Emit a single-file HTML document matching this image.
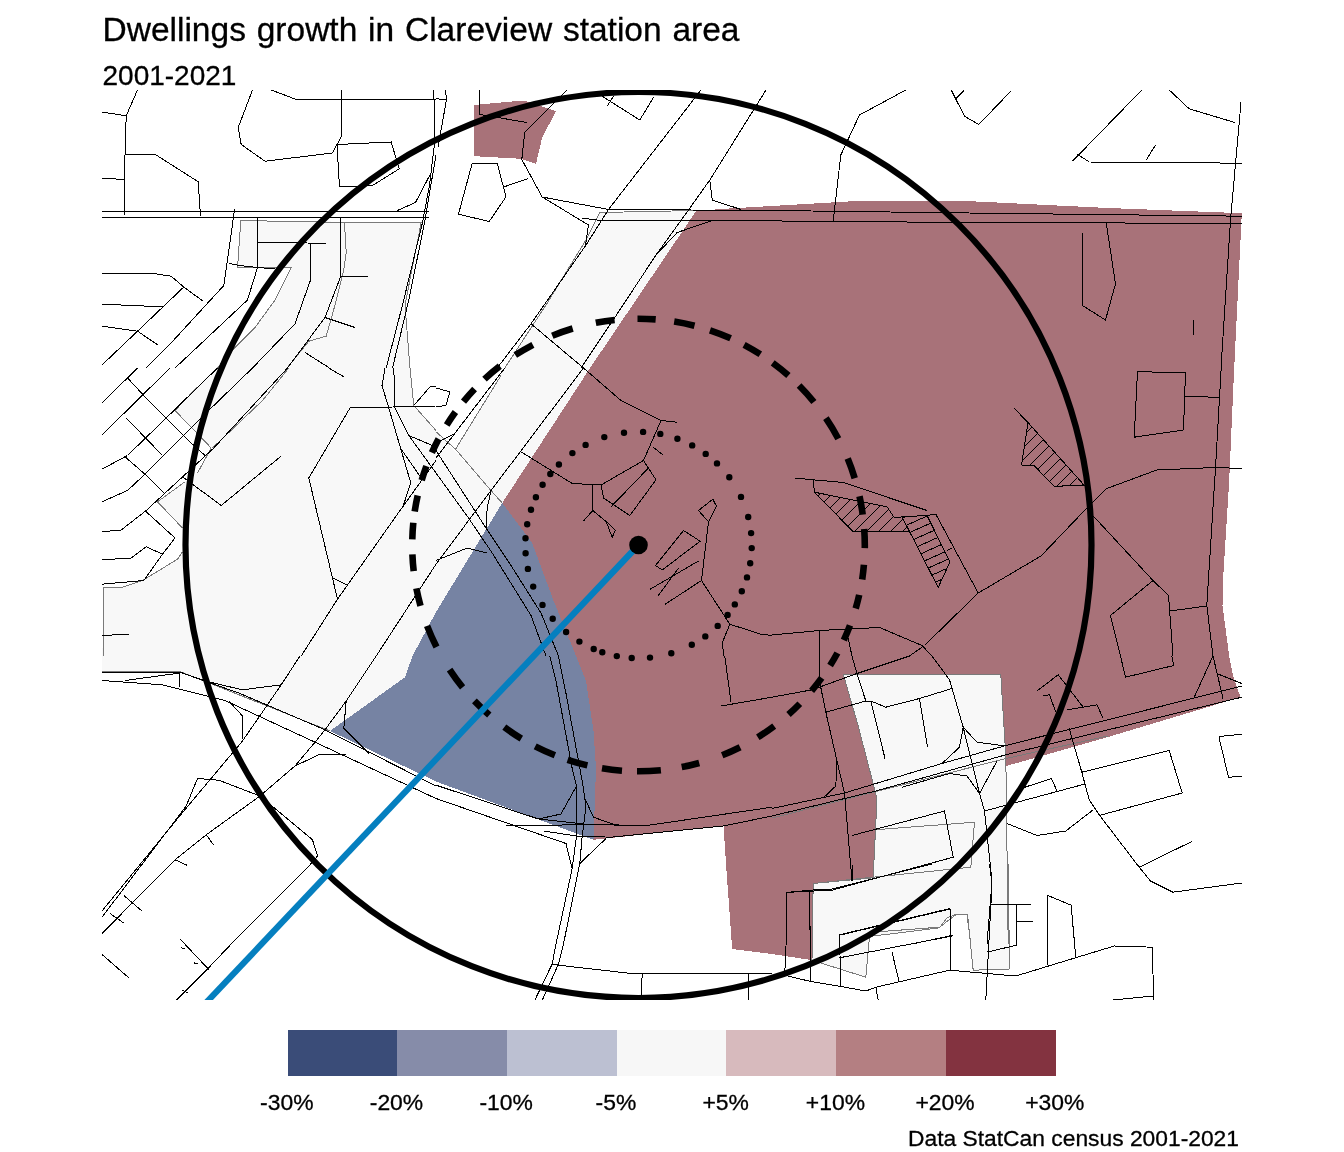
<!DOCTYPE html>
<html lang="en"><head><meta charset="utf-8"><title>Dwellings growth in Clareview station area</title>
<style>html,body{margin:0;padding:0;background:#fff}body{width:1344px;height:1152px;overflow:hidden}svg{display:block}text{font-family:"Liberation Sans",sans-serif;fill:#000;stroke:#000;stroke-width:0.3px}</style></head><body>
<svg width="1344" height="1152" viewBox="0 0 1344 1152">
<rect width="1344" height="1152" fill="#fff"/>
<defs><clipPath id="mapclip"><rect x="102" y="90" width="1140" height="910"/></clipPath>
<clipPath id="hc0"><path d="M814.5 492.2 L853.2 531.8 L909.5 531.8 L902.0 516.8 L894.5 518.0 L887.0 506.8 Z"/></clipPath>
<clipPath id="hc1"><path d="M902.0 516.8 L927.0 515.5 L950.0 561.8 L938.2 587.5 Z"/></clipPath>
<clipPath id="hc2"><path d="M1029.5 424.2 L1084.5 485.5 L1054.0 486.2 L1034.0 465.5 L1021.5 465.0 L1028.2 421.8 Z"/></clipPath>
</defs>
<g clip-path="url(#mapclip)">
<g shape-rendering="crispEdges" stroke="none">
<path d="M240.8 220.5 L421.2 222.5 L405.0 305.0 L410.0 368.0 L413.8 405.5 L436.0 431.0 L491.0 490.5 L502.2 503.0 L436.0 612.0 L412.5 656.0 L405.0 677.2 L330.0 731.0 L240.0 696.0 L180.0 672.2 L102.0 672.2 L103.8 587.5 L120.0 588.0 L142.5 580.5 L177.5 559.2 L182.5 551.8 L182.5 528.0 L157.5 501.8 L185.0 481.8 L197.5 473.0 L211.2 448.0 L175.0 410.5 L197.5 386.8 L227.5 355.0 L255.0 327.5 L275.0 300.0 L291.2 267.5 L237.5 268.0 Z" fill="#F8F8F8"/>
<path d="M599.8 212.5 L696.0 210.5 L590.0 368.0 L502.2 503.0 L455.0 449.0 L504.8 368.0 L586.0 238.0 Z" fill="#F8F8F8"/>
<path d="M696.0 211.2 L723.5 208.8 L772.0 206.0 L859.5 200.8 L962.0 200.8 L1108.0 208.0 L1241.8 213.2 L1234.2 368.0 L1229.2 480.5 L1223.0 580.5 L1222.5 605.5 L1229.2 656.0 L1233.0 676.0 L1240.5 697.2 L1108.0 737.0 L1008.0 765.5 L877.0 798.0 L873.2 877.2 L813.2 883.5 L812.0 960.2 L772.0 954.0 L732.2 949.0 L726.0 864.0 L723.5 826.0 L593.5 839.8 L596.0 768.5 L593.5 731.0 L586.0 681.0 L576.0 656.0 L553.5 600.5 L532.2 543.0 L502.2 503.0 L590.0 368.0 Z" fill="#A87279"/>
<path d="M473.5 105.0 L523.5 100.5 L556.0 111.2 L542.2 137.5 L536.0 163.8 L521.0 158.8 L474.2 156.2 Z" fill="#A87279"/>
<path d="M502.2 503.0 L532.2 543.0 L553.5 600.5 L576.0 656.0 L586.0 681.0 L593.5 731.0 L596.0 768.5 L593.5 839.8 L436.0 781.5 L330.0 731.0 L405.0 677.2 L412.5 656.0 L436.0 612.0 Z" fill="#7683A3"/>
<path d="M843.2 674.0 L1000.8 674.8 L1005.8 756.0 L1008.2 944.0 L1009.5 969.0 L973.2 970.2 L967.5 914.0 L957.0 914.0 L947.0 917.8 L939.5 927.8 L869.5 936.5 L865.8 977.2 L812.0 960.2 L813.2 883.5 L873.2 877.2 L877.0 798.5 L858.2 726.0 Z" fill="#F8F8F8"/>
</g>
<g fill="none" stroke="#7a7a7a" stroke-width="1" shape-rendering="crispEdges">
<path d="M240.8 220.5 L237.5 268.0 L291.2 267.5 L275.0 300.0 L255.0 327.5 L227.5 355.0 L217.5 368.0 M240.8 220.5 L344.5 222.5 L421.2 222.5 L405.0 305.0 L410.0 368.0 M344.5 222.5 L346.2 252.5 L343.8 270.0 L335.0 305.0 L326.2 336.2 L308.8 341.2 L287.5 367.5 M696.0 210.5 L599.8 212.5 L586.0 240.0 L546.0 305.0 L504.8 368.0 M197.5 386.8 L175.0 410.5 L211.2 448.0 L197.5 473.0 M288.8 368.0 L262.5 400.5 L212.5 448.0 M185.0 481.8 L157.5 501.8 L182.5 528.0 M182.5 551.8 L177.5 559.2 L142.5 580.5 L120.0 588.0 L103.8 587.5 L103.8 656.0 M410.0 368.0 L413.8 405.5 L436.0 430.5 M501.0 375.5 L455.5 449.2 L491.0 490.5 L502.2 503.0 M436.0 431.8 L455.5 449.2 M102.0 671.5 L180.0 671.5 L240.0 695.2 L330.0 731.0 M772.0 818.0 L1005.8 758.5 L1108.0 736.0 M874.5 829.8 L974.5 822.2 L970.8 867.2 L873.2 877.2 M872.0 932.2 L939.5 927.2 L955.8 914.8 L967.0 914.8 L970.8 944.0 M843.2 674.0 L1000.8 674.8 L1005.8 756.0 L1008.2 944.0 M843.2 674.0 L858.2 726.0 L877.0 798.5 L873.2 877.2 L813.2 883.5 L812.0 944.0 M813.2 883.5 L873.2 877.8 L873.2 864.0 M812.0 960.2 L865.8 977.2 L869.5 936.5 L939.5 927.8 L947.0 917.8 L957.0 914.0 L967.5 914.0 L973.2 970.2 L1009.5 969.0 L1008.2 864.0 M813.2 883.5 L812.0 960.2"/>
</g>
<g fill="none" stroke="#000" stroke-width="1" shape-rendering="crispEdges">
<path d="M137.5 90.0 L126.2 115.8 L125.0 155.0 L124.2 215.0 M102.0 112.0 L126.2 115.8 M125.0 154.2 L156.2 155.0 L198.2 181.8 L200.5 215.8 M102.0 178.2 L123.8 179.5 M252.5 90.0 L238.2 127.5 L241.2 144.5 L265.0 161.2 L332.5 153.0 L337.0 144.5 L341.5 136.2 L341.5 90.0 M271.2 90.0 L295.0 99.0 L436.0 99.0 M337.0 144.5 L391.2 142.0 L399.2 168.8 L372.5 185.5 L339.5 187.0 L337.0 144.5 M433.8 90.0 L435.0 140.0 L429.5 185.0 L422.5 222.5 L402.5 305.0 L386.2 368.0 M436.0 155.0 L425.0 220.0 L408.8 300.0 L392.5 368.0 M102.0 211.2 L428.8 211.2 M102.0 217.0 L428.8 217.0 M397.5 210.5 L415.5 202.5 L431.2 172.5 M234.5 209.5 L230.0 242.5 L223.8 285.5 L173.8 340.0 L146.2 368.0 M228.8 263.2 L238.8 265.5 L257.5 267.5 L275.0 268.8 M257.5 217.0 L257.5 267.5 L247.5 300.0 L175.0 368.0 M257.5 242.5 L326.2 243.2 M310.8 243.2 L310.8 279.2 L295.0 323.8 L252.5 368.0 M340.8 217.0 L340.8 276.2 L367.5 276.2 M340.8 276.2 L325.0 317.5 L355.0 327.5 M325.0 317.5 L287.5 368.0 M305.0 352.5 L328.8 367.5 M102.0 273.2 L151.2 273.2 L171.2 276.2 L183.8 287.0 L202.5 300.8 M183.8 287.0 L137.5 331.2 L102.0 365.0 M102.0 304.2 L162.5 306.8 M102.0 326.2 L137.5 331.2 L158.0 345.0 M445.5 90.0 L446.5 99.5 L438.0 147.5 M436.0 98.8 L446.5 99.5 M479.8 90.0 L479.8 114.5 L527.2 122.5 M567.2 90.0 L524.8 132.0 L521.8 159.5 L542.2 197.0 L608.5 209.5 L772.0 210.5 M542.2 197.0 L588.5 225.0 L585.5 245.0 M472.2 163.2 L497.2 163.2 L506.0 196.8 L489.2 221.5 L458.5 214.2 L472.2 163.2 M503.5 187.0 L527.8 178.8 M601.0 95.5 L639.8 120.0 L653.5 97.5 M607.2 106.2 L613.5 96.2 M701.0 90.0 L608.5 209.5 L586.0 245.0 L531.0 323.8 L497.2 368.0 M766.0 90.0 L709.8 180.0 L688.5 210.0 L656.0 255.0 L614.8 317.5 L581.0 368.0 M709.8 180.0 L712.2 200.0 L741.0 209.5 M582.2 218.2 L601.0 220.5 L772.0 220.5 M712.2 220.5 L677.2 232.5 L656.0 255.0 M531.0 323.8 L578.5 363.8 L583.5 368.0 M905.8 90.0 L859.5 115.0 L840.8 155.0 L833.2 221.2 M772.0 210.5 L1008.0 213.5 M772.0 220.5 L797.0 221.8 L1008.0 222.2 M951.2 90.0 L964.5 116.2 L978.8 124.5 L1010.8 91.2 M955.8 98.8 L964.0 90.5 M1141.8 90.0 L1072.5 161.2 M1076.8 153.8 L1089.2 162.0 L1160.5 162.5 L1241.8 163.2 M1146.2 160.0 L1155.5 145.0 M1169.2 90.0 L1189.2 108.8 L1234.8 122.5 M1241.0 102.5 L1230.5 220.0 L1221.0 368.0 M1008.0 213.5 L1241.8 216.2 M1008.0 222.2 L1241.8 223.8 M1082.5 233.0 L1082.5 305.5 L1105.5 320.0 L1115.5 283.8 L1106.2 223.0 M1193.5 320.0 L1193.5 335.0 M137.5 368.0 L102.0 403.0 M170.0 368.0 L102.0 435.0 M127.5 378.0 L143.8 395.5 L166.2 418.0 L192.5 444.2 L205.0 455.5 M217.5 368.0 L166.2 418.0 L127.5 455.5 L125.0 456.8 L102.0 469.2 M126.2 418.0 L162.5 455.5 M252.5 368.0 L210.0 409.2 L145.0 474.2 L127.5 490.5 L102.0 501.8 M125.0 456.8 L145.0 474.2 L163.8 493.0 M287.5 368.0 L213.8 448.0 L146.2 510.5 L121.2 530.0 L102.0 531.8 M146.2 511.8 L175.0 538.0 L162.5 554.2 L143.8 580.5 L102.0 584.2 M102.0 559.8 L131.2 558.0 L146.2 546.8 L162.5 554.2 M102.0 635.5 L128.8 634.2 M182.5 476.8 L221.2 505.5 L281.2 456.0 M436.0 406.0 L350.0 408.0 L308.8 478.0 L337.5 599.2 M332.5 578.0 L347.5 585.0 M328.8 368.0 L343.8 376.8 M385.0 368.0 L382.0 385.5 L388.8 408.0 L410.8 483.0 L402.5 508.0 M393.8 368.0 L395.0 408.0 L408.8 435.5 L436.0 473.0 M413.8 405.5 L430.0 386.8 L436.0 386.8 M408.8 435.5 L432.5 445.5 M401.2 449.2 L421.2 478.0 M436.0 460.5 L400.0 510.5 L337.5 599.2 L301.2 656.0 M436.0 564.2 L376.2 656.0 M583.5 368.0 L621.0 400.5 L661.0 420.5 L677.2 422.2 M661.0 420.5 L643.5 460.5 L601.0 485.0 L572.2 483.5 L521.0 451.8 M643.5 460.5 L656.0 479.8 L629.8 515.5 L603.5 498.0 L601.0 485.0 M648.5 468.0 L611.0 506.8 M592.2 484.2 L592.8 510.5 L583.5 521.0 M592.8 510.5 L607.2 522.5 L615.2 530.5 L612.2 537.5 L606.0 521.0 M653.5 447.5 L662.8 454.8 M698.5 510.5 L712.8 499.2 L716.5 506.2 L708.5 521.8 L698.5 510.5 M708.5 521.8 L701.5 580.5 L729.8 624.2 L761.0 634.2 L772.0 635.5 M729.8 624.2 L722.2 643.0 L724.0 656.0 M683.5 530.5 L700.2 541.2 L662.2 570.0 L655.5 565.5 L683.5 530.5 M698.5 561.0 L650.2 589.2 M678.5 568.0 L658.0 596.0 M701.5 580.5 L665.2 604.2 M583.5 368.0 L491.0 490.5 L436.0 564.2 M504.8 368.0 L436.0 458.0 M436.0 473.0 L468.5 518.0 L492.2 553.0 L531.0 615.5 L546.0 656.0 M436.0 450.5 L486.0 528.0 L511.0 565.5 L541.0 613.0 L558.5 656.0 M491.0 490.5 L487.2 508.0 L486.0 528.0 M436.0 560.5 L467.2 548.0 L487.2 553.0 M436.0 388.0 L449.8 391.8 L446.0 405.5 L436.0 406.8 M453.5 434.2 L436.0 443.0 M795.2 478.0 L813.2 479.8 L843.2 482.5 L927.0 510.5 M813.2 479.8 L814.5 492.2 L853.2 531.8 L909.5 531.8 L902.0 516.8 L894.5 518.0 L887.0 506.8 L814.5 492.2 M902.0 516.8 L927.0 515.5 L935.8 514.2 L978.2 593.0 M927.0 515.5 L950.0 561.8 L938.2 587.5 L902.0 516.8 M947.0 550.5 L952.0 548.0 M1014.0 408.0 L1029.5 424.2 L1084.5 485.5 L1054.0 486.2 L1034.0 465.5 L1021.5 465.0 L1028.2 421.8 M978.2 593.0 L1041.0 556.0 M978.2 593.0 L924.5 645.5 L909.5 656.0 M772.0 635.0 L819.5 630.5 L879.5 627.5 L922.0 645.5 L932.0 656.0 M819.5 630.5 L819.5 656.0 M847.0 633.0 L852.0 656.0 M1221.2 368.0 L1215.5 468.0 L1206.8 605.5 L1213.0 656.0 M1137.5 371.8 L1185.5 372.5 L1183.5 430.0 L1134.2 437.2 L1137.5 371.8 M1185.0 396.0 L1219.2 397.5 M1241.8 468.5 L1215.5 467.5 L1156.8 470.0 L1106.8 488.5 L1090.5 504.2 L1041.0 556.0 M1090.5 513.0 L1153.0 580.5 L1168.5 595.5 L1173.0 656.0 M1153.0 580.5 L1110.5 615.5 L1120.5 656.0 M1170.0 611.0 L1206.8 606.0 M102.0 672.2 L180.0 672.2 L210.0 682.2 L242.5 689.8 L281.2 684.8 M180.0 672.2 L240.0 693.5 L325.0 729.8 L436.0 786.0 M102.0 680.5 L162.5 684.8 L225.0 700.5 L315.0 742.2 L436.0 798.5 M125.0 680.5 L180.0 673.0 L179.5 687.2 M228.8 701.0 L242.5 716.0 L242.5 738.5 M300.0 656.0 L281.2 684.8 L242.5 741.0 L183.8 811.0 L102.0 911.0 M376.2 656.0 L346.2 701.0 L325.0 729.8 L315.0 742.2 L295.0 766.0 L260.0 796.0 L206.2 834.8 L175.0 859.8 L102.0 933.5 M295.0 766.0 L320.0 754.2 L346.2 754.2 M346.2 701.0 L343.8 728.5 L368.8 753.5 M197.5 778.5 L218.8 780.2 L260.0 796.0 L275.0 808.5 L312.5 839.8 L317.5 856.0 L310.0 864.8 L231.2 944.0 M197.5 778.5 L186.2 806.0 L102.0 917.2 M206.2 834.8 L213.8 845.2 M175.0 859.8 L187.5 865.5 M123.8 895.5 L142.5 911.5 M110.0 913.5 L124.5 923.5 M549.8 656.0 L556.0 681.0 L572.2 768.5 L576.5 786.0 L576.5 836.0 L572.2 868.5 L556.0 944.0 M558.5 656.0 L566.0 693.5 L582.2 781.0 L586.0 806.0 L582.2 836.0 L579.8 863.5 L563.5 944.0 M576.5 786.0 L561.0 814.0 L538.5 819.0 L583.5 824.0 L643.5 826.0 L772.0 807.2 M586.0 801.0 L593.5 817.2 L614.8 824.8 L642.2 826.0 M436.0 798.5 L566.0 843.5 L572.2 868.5 M436.0 785.2 L538.5 819.0 M506.0 825.5 L586.0 824.8 M543.5 831.0 L576.0 836.0 L611.0 837.2 L723.5 826.0 L772.0 816.0 M579.8 863.5 L606.0 838.5 M724.8 656.0 L731.0 702.2 M721.0 706.0 L772.0 697.2 M772.0 808.5 L844.5 793.0 L942.0 763.5 L1007.0 745.2 M772.0 816.0 L875.8 791.0 L1005.8 754.8 M819.5 656.0 L819.5 681.0 L825.8 712.2 L837.0 761.0 L844.5 793.0 L852.0 881.0 M837.0 761.0 L835.8 786.0 L823.2 798.0 M852.0 656.0 L857.0 673.5 L865.8 701.0 L870.8 701.0 L885.8 707.2 L919.5 698.5 L952.0 688.5 M870.8 701.0 L885.0 758.5 M919.5 698.5 L927.5 747.2 M825.8 712.2 L865.8 701.0 M932.0 656.0 L949.5 679.8 L963.2 727.2 L979.5 793.5 L984.5 811.0 L992.0 881.0 L987.0 944.0 M963.2 727.2 L959.5 747.2 L942.0 763.5 M963.2 727.2 L977.0 742.2 L1005.8 746.0 M902.0 787.2 L949.5 773.5 L967.0 776.0 L979.5 793.5 L997.0 761.0 M772.0 697.2 L812.0 689.8 L857.0 673.5 L909.5 656.0 M852.0 835.5 L944.5 811.0 L953.2 857.2 L832.0 890.2 L787.0 892.2 L786.0 944.0 M809.5 891.0 L810.2 944.0 M984.5 811.0 L1082.0 784.8 L1084.5 784.0 M1017.0 789.8 L1051.5 778.5 L1057.0 791.0 M1007.0 823.5 L1037.0 835.5 L1065.8 831.0 L1093.2 809.8 M1037.0 691.0 L1058.2 674.8 L1083.2 707.2 M1043.2 696.0 L1049.5 694.8 L1055.8 712.2 M1067.0 709.8 L1097.0 704.8 L1103.2 718.5 M990.8 904.8 L1030.8 904.8 M1016.5 904.8 L1016.5 944.0 M1016.5 921.0 L1033.2 921.0 M1047.8 895.5 L1071.2 905.2 L1074.5 944.0 M1047.8 895.5 L1047.8 944.0 M839.5 944.0 L839.5 934.8 L950.0 908.5 L950.8 944.0 M912.0 944.0 L953.2 935.2 M1007.0 745.2 L1241.8 686.0 M1005.8 754.8 L1241.8 697.2 M1120.5 656.0 L1125.5 677.2 L1173.8 665.5 L1171.8 656.0 M1213.0 656.0 L1194.2 697.2 M1213.0 656.0 L1223.0 698.5 M1216.8 673.5 L1241.8 683.5 M1069.2 728.5 L1081.8 772.2 L1089.2 799.8 L1099.2 814.8 L1139.2 867.2 L1150.5 881.0 L1173.0 892.2 L1241.8 883.0 M1081.8 772.2 L1169.2 750.5 L1182.2 793.0 L1099.2 815.5 M1139.2 867.2 L1191.8 841.5 M1218.8 736.5 L1241.8 734.2 M1218.8 736.5 L1228.5 777.2 L1241.8 776.5 M102.0 954.5 L128.8 977.8 M231.2 944.0 L207.5 969.0 L176.2 1000.2 M180.0 939.0 L208.8 969.5 M181.2 947.8 L185.0 949.0 M193.8 962.8 L197.5 964.0 M182.5 990.2 L187.5 992.8 M552.2 964.0 L558.5 965.2 L636.0 974.0 L751.0 973.2 L772.0 974.0 M642.2 974.0 L641.0 1000.2 M556.0 944.0 L552.2 964.0 L534.8 1000.2 M563.5 944.0 L558.5 964.0 L542.2 1000.2 M748.5 973.2 L748.5 1000.2 M787.0 892.8 L809.5 890.2 L832.0 889.0 L932.0 864.0 M787.0 892.8 L785.8 956.5 L784.5 975.2 L810.8 981.5 L840.8 986.5 L865.8 991.0 L875.8 987.2 L949.5 970.2 L1015.8 976.0 M809.5 890.2 L810.8 981.5 M839.5 935.2 L950.0 909.0 L950.8 970.2 M839.5 935.2 L840.8 986.5 M839.5 957.8 L953.2 935.8 M892.0 952.0 L899.0 981.5 M875.8 987.2 L878.2 1000.2 M989.5 864.0 L992.0 884.0 L985.8 1000.2 M1016.5 904.5 L1016.5 945.2 L987.5 952.0 M1071.2 905.2 L1075.8 957.8 M1047.8 895.2 L1047.8 965.2 M852.0 864.0 L852.5 881.5 M1015.8 976.0 L1114.2 946.0 L1152.5 947.2 L1153.5 1000.2 M1111.0 1000.2 L1153.5 996.0"/>
<path clip-path="url(#hc0)" d="M722.7 507.1 L857.1 372.7 M728.7 513.1 L863.1 378.7 M734.7 519.1 L869.1 384.7 M740.7 525.1 L875.1 390.7 M746.7 531.1 L881.1 396.7 M752.8 537.1 L887.1 402.8 M758.8 543.1 L893.1 408.8 M764.8 549.1 L899.1 414.8 M770.8 555.1 L905.1 420.8 M776.8 561.1 L911.1 426.8 M782.8 567.2 L917.2 432.8 M788.8 573.2 L923.2 438.8 M794.8 579.2 L929.2 444.8 M800.8 585.2 L935.2 450.8 M806.8 591.2 L941.2 456.8 M812.9 597.2 L947.2 462.9 M818.9 603.2 L953.2 468.9 M824.9 609.2 L959.2 474.9 M830.9 615.2 L965.2 480.9 M836.9 621.2 L971.2 486.9 M842.9 627.3 L977.3 492.9 M848.9 633.3 L983.3 498.9 M854.9 639.3 L989.3 504.9 M860.9 645.3 L995.3 510.9"/>
<path clip-path="url(#hc1)" d="M827.7 507.7 L959.2 449.1 M830.9 515.0 L962.5 456.4 M834.2 522.3 L965.7 463.7 M837.4 529.6 L969.0 471.1 M840.7 536.9 L972.3 478.4 M844.0 544.2 L975.5 485.7 M847.2 551.6 L978.8 493.0 M850.5 558.9 L982.0 500.3 M853.7 566.2 L985.3 507.6 M857.0 573.5 L988.5 514.9 M860.2 580.8 L991.8 522.2 M863.5 588.1 L995.0 529.5 M866.7 595.4 L998.3 536.8 M870.0 602.7 L1001.5 544.1 M873.2 610.0 L1004.8 551.4 M876.5 617.3 L1008.0 558.8 M879.7 624.6 L1011.3 566.1 M883.0 631.9 L1014.6 573.4 M886.3 639.3 L1017.8 580.7"/>
<path clip-path="url(#hc2)" d="M959.3 451.5 L1050.5 360.3 M965.3 457.5 L1056.5 366.3 M971.3 463.5 L1062.5 372.3 M977.3 469.6 L1068.6 378.3 M983.3 475.6 L1074.6 384.3 M989.4 481.6 L1080.6 390.4 M995.4 487.6 L1086.6 396.4 M1001.4 493.6 L1092.6 402.4 M1007.4 499.6 L1098.6 408.4 M1013.4 505.6 L1104.6 414.4 M1019.4 511.6 L1110.6 420.4 M1025.4 517.6 L1116.6 426.4 M1031.4 523.7 L1122.7 432.4 M1037.4 529.7 L1128.7 438.4 M1043.5 535.7 L1134.7 444.5 M1049.5 541.7 L1140.7 450.5"/>
</g>
<g fill="none" stroke="#000">
<circle cx="638.5" cy="545.0" r="453.0" stroke-width="6.2"/>
<path stroke-width="6.6" d="M595.8 322.8 A226.3 226.3 0 0 1 614.6 320.0 M552.3 335.7 A226.3 226.3 0 0 1 572.7 328.5 M515.3 355.1 A226.3 226.3 0 0 1 532.9 344.8 M484.5 379.2 A226.3 226.3 0 0 1 499.8 366.2 M463.5 401.6 A226.3 226.3 0 0 1 474.6 389.0 M446.7 425.0 A226.3 226.3 0 0 1 455.4 412.0 M431.9 452.7 A226.3 226.3 0 0 1 438.6 438.9 M421.7 480.3 A226.3 226.3 0 0 1 426.4 466.2 M414.7 511.5 A226.3 226.3 0 0 1 417.7 495.6 M412.3 539.4 A226.3 226.3 0 0 1 413.3 522.7 M637.5 318.7 A226.3 226.3 0 0 1 655.7 319.4 M674.2 321.5 A226.3 226.3 0 0 1 694.5 325.7 M710.0 330.3 A226.3 226.3 0 0 1 730.6 338.3 M744.1 344.8 A226.3 226.3 0 0 1 760.3 354.3 M772.7 362.8 A226.3 226.3 0 0 1 788.4 375.5 M799.1 385.5 A226.3 226.3 0 0 1 813.9 402.0 M825.9 418.2 A226.3 226.3 0 0 1 838.3 438.7 M847.7 458.6 A226.3 226.3 0 0 1 854.7 478.2 M859.5 496.3 A226.3 226.3 0 0 1 862.7 514.6 M864.2 529.0 A226.3 226.3 0 0 1 864.8 548.1 M863.9 564.7 A226.3 226.3 0 0 1 862.2 579.4 M859.2 594.9 A226.3 226.3 0 0 1 855.7 608.5 M850.0 625.4 A226.3 226.3 0 0 1 843.8 640.2 M837.4 653.0 A226.3 226.3 0 0 1 830.1 665.5 M821.7 677.9 A226.3 226.3 0 0 1 811.6 690.8 M799.8 703.7 A226.3 226.3 0 0 1 788.5 714.5 M774.2 726.1 A226.3 226.3 0 0 1 757.8 737.3 M740.1 747.2 A226.3 226.3 0 0 1 722.2 755.2 M699.2 763.0 A226.3 226.3 0 0 1 681.7 767.1 M660.9 770.2 A226.3 226.3 0 0 1 637.0 771.3 M622.0 770.7 A226.3 226.3 0 0 1 602.0 768.3 M587.4 765.4 A226.3 226.3 0 0 1 567.6 759.9 M554.9 755.3 A226.3 226.3 0 0 1 535.2 746.4 M521.3 738.6 A226.3 226.3 0 0 1 504.3 727.2 M489.3 715.1 A226.3 226.3 0 0 1 474.4 700.9 M462.6 687.4 A226.3 226.3 0 0 1 449.6 669.6 M436.5 647.0 A226.3 226.3 0 0 1 427.1 625.9 M420.5 605.8 A226.3 226.3 0 0 1 416.4 588.4 M413.7 571.2 A226.3 226.3 0 0 1 412.4 554.3"/>
<path stroke-width="6.4" stroke-linecap="round" d="M624.0 432.7 h0.01 M604.3 437.1 h0.01 M585.6 444.9 h0.01 M572.4 453.1 h0.01 M558.9 464.5 h0.01 M550.3 474.0 h0.01 M542.6 484.8 h0.01 M535.9 497.2 h0.01 M531.0 509.7 h0.01 M527.2 524.3 h0.01 M525.5 538.3 h0.01 M643.1 431.9 h0.01 M660.3 433.9 h0.01 M677.4 438.7 h0.01 M692.2 445.4 h0.01 M705.7 453.9 h0.01 M717.0 463.4 h0.01 M729.3 477.3 h0.01 M741.0 496.9 h0.01 M748.2 517.0 h0.01 M751.1 533.1 h0.01 M751.7 548.1 h0.01 M750.2 563.3 h0.01 M747.0 577.4 h0.01 M741.8 591.3 h0.01 M734.8 604.4 h0.01 M727.6 614.9 h0.01 M717.7 625.9 h0.01 M705.3 636.4 h0.01 M691.8 644.8 h0.01 M671.3 653.3 h0.01 M650.0 657.6 h0.01 M525.6 553.3 h0.01 M527.9 568.9 h0.01 M533.2 586.6 h0.01 M542.5 604.9 h0.01 M552.7 618.8 h0.01 M566.1 632.0 h0.01 M579.4 641.6 h0.01 M593.7 649.0 h0.01 M602.3 652.3 h0.01 M616.8 656.1 h0.01 M631.7 658.0 h0.01"/>
</g>
<line x1="638.5" y1="545.0" x2="203.0" y2="1006.0" stroke="#057FBF" stroke-width="6.2"/>
<circle cx="638.5" cy="545.0" r="9.3" fill="#000"/>
</g>
<g shape-rendering="crispEdges">
<rect x="288" y="1030" width="109" height="46" fill="#3A4C78"/>
<rect x="397" y="1030" width="110" height="46" fill="#868CA9"/>
<rect x="507" y="1030" width="110" height="46" fill="#BCC0D2"/>
<rect x="617" y="1030" width="109" height="46" fill="#F7F7F7"/>
<rect x="726" y="1030" width="110" height="46" fill="#D7BABD"/>
<rect x="836" y="1030" width="110" height="46" fill="#B47F82"/>
<rect x="946" y="1030" width="110" height="46" fill="#833340"/>
</g>
<text x="286.8" y="1109.5" font-size="22.9" text-anchor="middle">-30%</text>
<text x="396.5" y="1109.5" font-size="22.9" text-anchor="middle">-20%</text>
<text x="506.2" y="1109.5" font-size="22.9" text-anchor="middle">-10%</text>
<text x="615.9" y="1109.5" font-size="22.9" text-anchor="middle">-5%</text>
<text x="725.7" y="1109.5" font-size="22.9" text-anchor="middle">+5%</text>
<text x="835.4" y="1109.5" font-size="22.9" text-anchor="middle">+10%</text>
<text x="945.1" y="1109.5" font-size="22.9" text-anchor="middle">+20%</text>
<text x="1054.8" y="1109.5" font-size="22.9" text-anchor="middle">+30%</text>
<text x="102.5" y="40.5" font-size="33.6" word-spacing="1.5" textLength="637" lengthAdjust="spacingAndGlyphs">Dwellings growth in Clareview station area</text>
<text x="102.5" y="84.5" font-size="28">2001-2021</text>
<text x="908" y="1146" font-size="22.9" textLength="331" lengthAdjust="spacingAndGlyphs">Data StatCan census 2001-2021</text>
</svg></body></html>
